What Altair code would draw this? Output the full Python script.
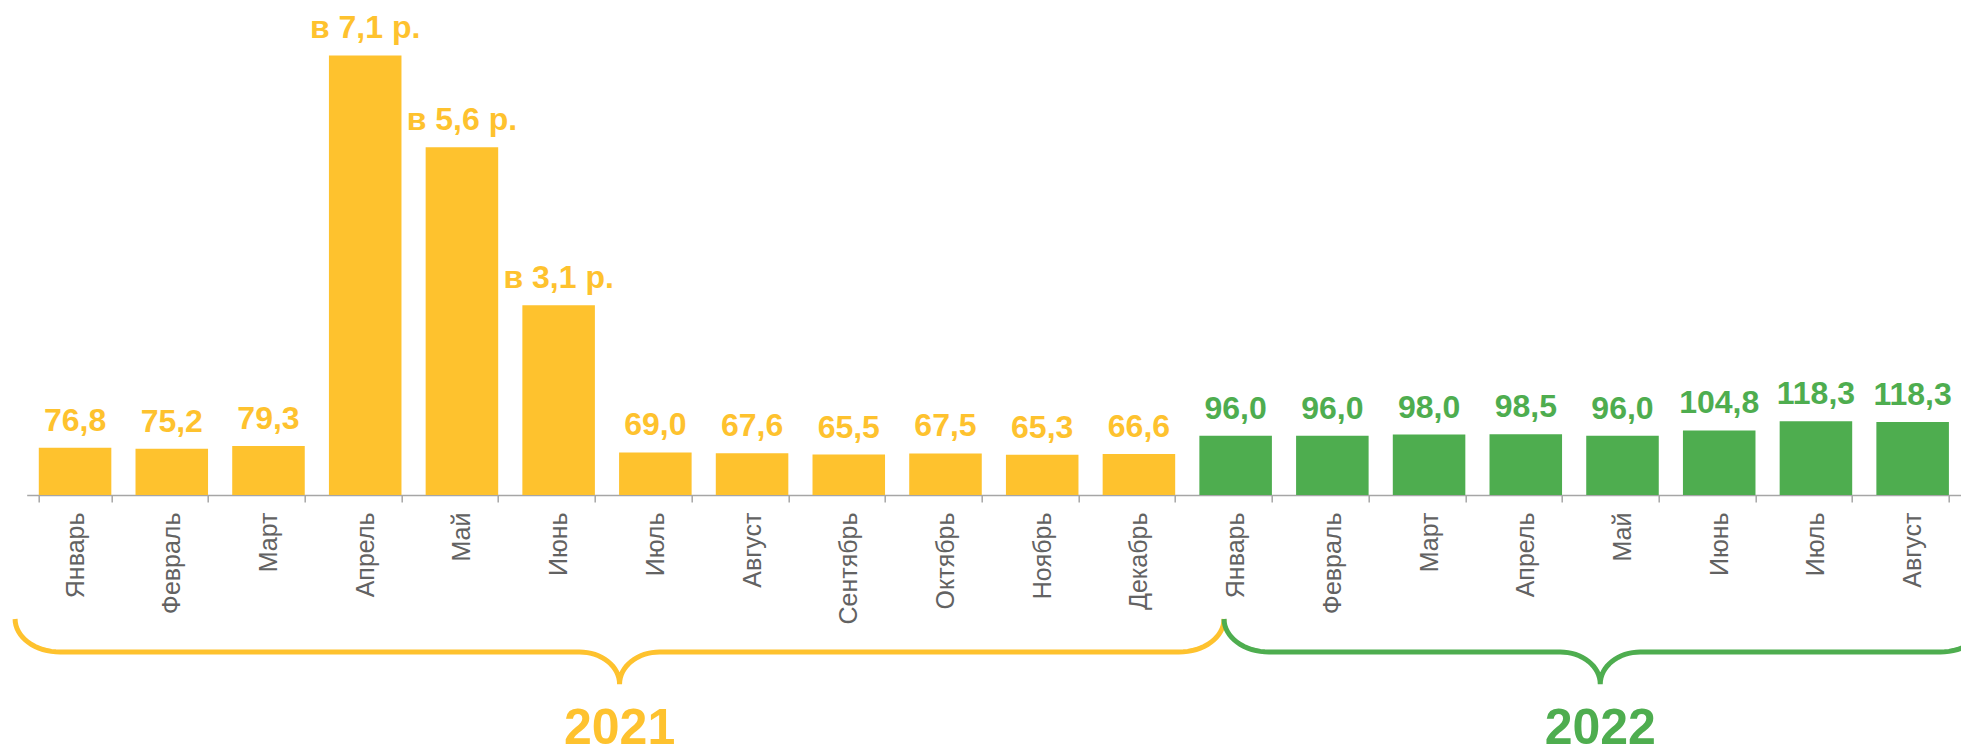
import math
import altair as alt
import pandas as pd

# ---------------- data ----------------
months = ["Январь", "Февраль", "Март", "Апрель", "Май", "Июнь", "Июль", "Август",
          "Сентябрь", "Октябрь", "Ноябрь", "Декабрь",
          "Январь", "Февраль", "Март", "Апрель", "Май", "Июнь", "Июль", "Август"]
years = [2021] * 12 + [2022] * 8
bar_values = [76.8, 75.2, 79.3, 713.0, 564.0, 308.0, 69.0, 67.6, 65.5, 67.5, 65.3, 66.6,
              96.0, 96.0, 98.0, 98.5, 96.0, 104.8, 119.8, 118.3]
bar_labels = ["76,8", "75,2", "79,3", "в 7,1 р.", "в 5,6 р.", "в 3,1 р.", "69,0", "67,6",
              "65,5", "67,5", "65,3", "66,6",
              "96,0", "96,0", "98,0", "98,5", "96,0", "104,8", "118,3", "118,3"]

group_years = [2021, 2022]
group_names = ["2021", "2022"]
# brace extents in category-index units (left end, tip, right end)
brace_left = [-0.12, 12.38]
brace_tip = [6.13, 16.27]
brace_right = [12.38, 20.25]

YELLOW = "#FEC22E"
GREEN = "#4EAD4F"

# ---------------- layout constants ----------------
PAD_LEFT = 18.7
PLOT_W = 1953 - PAD_LEFT
PLOT_H = 487
STEP = PLOT_W / len(months)

df = pd.DataFrame({"i": list(range(len(months))), "month": months, "year": years,
                   "value": bar_values, "label": bar_labels})

color_scale = alt.Scale(domain=group_years, range=[YELLOW, GREEN])

x_enc = alt.X("i:O",
              scale=alt.Scale(paddingInner=0.25, paddingOuter=0.125),
              axis=alt.Axis(
                  title=None,
                  labelExpr="[" + ",".join("'%s'" % m for m in months) + "][datum.value]",
                  labelAngle=-90,
                  labelFontSize=25,
                  labelFont="Liberation Sans",
                  labelColor="#626262",
                  labelPadding=10,
                  tickBand="extent",
                  tickSize=7,
                  tickWidth=1.5,
                  tickColor="#A6A6A6",
                  domainColor="#A6A6A6",
                  domainWidth=1.5,
                  grid=False,
              ))
y_enc = alt.Y("value:Q", scale=alt.Scale(domain=[0, 790], nice=False, zero=True), axis=None)

bars = alt.Chart(df).mark_bar().encode(
    x=x_enc, y=y_enc,
    color=alt.Color("year:N", scale=color_scale, legend=None),
)
labels = alt.Chart(df).mark_text(
    font="Liberation Sans", fontWeight="bold", fontSize=32,
    align="center", baseline="alphabetic", dy=-17,
).encode(
    x=x_enc, y=y_enc, text="label:N",
    color=alt.Color("year:N", scale=color_scale, legend=None),
)
top = alt.layer(bars, labels)

# ---------------- braces (decorative shape, pixel depths below the axis) ----------------
END_DEPTH, MID_DEPTH, TIP_DEPTH = 124, 157, 189
RX_END, RX_TIP = 45 / STEP, 40 / STEP
ry1, ry2 = MID_DEPTH - END_DEPTH, TIP_DEPTH - MID_DEPTH
rows = []
for g, xl, xt, xr in zip(group_years, brace_left, brace_tip, brace_right):
    pts = []
    n = 16
    for k in range(n + 1):  # left end arc
        t = math.pi - (math.pi / 2) * k / n
        pts.append((xl + RX_END + RX_END * math.cos(t), END_DEPTH + ry1 * math.sin(t)))
    for k in range(n + 1):  # left half arc into tip
        s = (math.pi / 2) * k / n
        pts.append((xt - RX_TIP + RX_TIP * math.sin(s), TIP_DEPTH - ry2 * math.cos(s)))
    for k in range(n + 1):  # out of tip, right half
        s = (math.pi / 2) * (n - k) / n
        pts.append((xt + RX_TIP - RX_TIP * math.sin(s), TIP_DEPTH - ry2 * math.cos(s)))
    for k in range(n + 1):  # right end arc
        t = (math.pi / 2) * (n - k) / n
        pts.append((xr - RX_END + RX_END * math.cos(t), END_DEPTH + ry1 * math.sin(t)))
    for o, (px, py) in enumerate(pts):
        rows.append({"year": g, "o": o, "bx": px, "by": -py})
brace_df = pd.DataFrame(rows)

bx_scale = alt.Scale(domain=[0, len(months)], nice=False, zero=False)
by_scale = alt.Scale(domain=[0, PLOT_H], nice=False, zero=False)

braces = alt.Chart(brace_df).mark_line(strokeWidth=5, strokeCap="butt").encode(
    x=alt.X("bx:Q", scale=bx_scale, axis=None),
    y=alt.Y("by:Q", scale=by_scale, axis=None),
    order="o:Q",
    detail="year:N",
    color=alt.Color("year:N", scale=color_scale, legend=None),
)

year_df = pd.DataFrame({"year": group_years, "name": group_names,
                        "bx": brace_tip, "by": [-249, -249]})
year_text = alt.Chart(year_df).mark_text(
    font="Liberation Sans", fontWeight="bold", fontSize=50,
    align="center", baseline="alphabetic",
).encode(
    x=alt.X("bx:Q", scale=bx_scale, axis=None),
    y=alt.Y("by:Q", scale=by_scale, axis=None),
    text="name:N",
    color=alt.Color("year:N", scale=color_scale, legend=None),
)
bottom = alt.layer(braces, year_text)

chart = alt.layer(top, bottom).resolve_scale(x="independent", y="independent").properties(
    width=PLOT_W, height=PLOT_H,
    autosize=alt.AutoSizeParams(type="none"),
    padding={"left": PAD_LEFT, "top": 0, "right": 0, "bottom": 261},
).configure_view(stroke=None)

chart.save("out.html", embed_options={"renderer": "svg", "actions": False})
